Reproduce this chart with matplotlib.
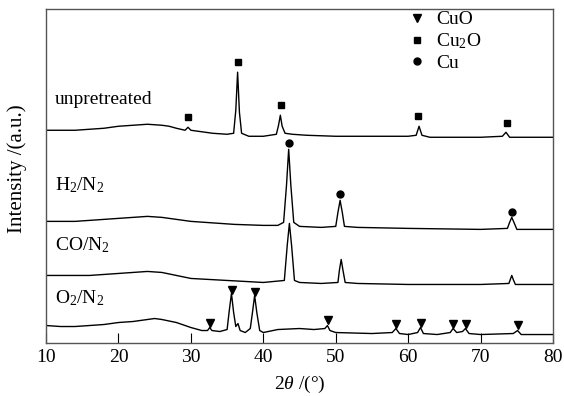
import matplotlib
matplotlib.use("Agg")
import matplotlib.pyplot as plt
from matplotlib.lines import Line2D

plt.rcParams['font.family'] = ['Liberation Serif', 'DejaVu Serif']
plt.rcParams['mathtext.fontset'] = 'custom'
plt.rcParams['mathtext.rm'] = 'Liberation Serif'
plt.rcParams['mathtext.it'] = 'Liberation Serif:italic'
plt.rcParams['mathtext.bf'] = 'Liberation Serif:bold'

# ---- data (2theta in degrees, intensity in arbitrary units incl. stacking offset) ----
unp_x = [10, 12, 14, 16, 18, 20, 22, 24, 26, 27, 28, 29.2, 29.6, 30.0, 31, 33, 35, 35.9, 36.2, 36.45,
         36.7, 37.0, 38, 40, 41.8, 42.1, 42.35, 42.6, 43.0, 44, 46, 50, 55, 60, 61.1, 61.5, 61.9,
         63, 70, 73.0, 73.5, 74.0, 80]
unp_y = [212, 212, 212, 213, 214, 216, 217, 218, 217, 216, 214, 212, 215, 212, 211, 209, 208, 209,
         232, 270, 230, 209, 206, 206, 208, 217, 227, 216, 209, 208, 207, 206, 206, 206, 207, 216,
         207, 205, 205, 206, 210, 205, 205]

h2_x = [10, 12, 14, 16, 18, 20, 22, 24, 26, 28, 30, 32, 36, 40, 42, 42.8, 43.2, 43.5, 43.8, 44.2,
        45, 48, 50.0, 50.3, 50.6, 50.9, 51.2, 53, 60, 70, 73.7, 74.0, 74.3, 74.6, 75.0, 80]
h2_y = [121, 121, 121, 122, 123, 124, 125, 126, 125, 123, 121, 120, 118, 117, 117, 120, 157, 193,
        157, 120, 116, 115, 116, 130, 142, 130, 116, 115, 114, 113, 114, 120, 125, 120, 113, 113]

co_x = [10, 12, 14, 16, 18, 20, 22, 24, 26, 28, 30, 35, 40, 42.9, 43.3, 43.6, 43.9, 44.3, 45, 48,
        50.3, 50.5, 50.75, 51.0, 51.3, 53, 60, 70, 73.9, 74.1, 74.3, 74.5, 74.8, 80]
co_y = [67, 67, 67, 67, 68, 69, 70, 71, 70, 67, 64, 62, 60, 62, 97, 119, 97, 62, 60, 59,
        60, 72, 83, 72, 60, 59, 58, 58, 59, 63, 67, 63, 58, 58]

o2_x = [10, 12, 14, 16, 18, 20, 22, 24, 25, 26, 28, 30, 31.5, 32.3, 32.6, 32.9, 34, 35.0, 35.3, 35.6,
        35.9, 36.2, 36.5, 36.8, 37.5, 38.2, 38.5, 38.8, 39.1, 39.5, 40, 42, 45, 47, 48.5, 48.85,
        49.2, 50, 55, 57.8, 58.3, 58.8, 60, 61.3, 61.7, 62.1, 64, 65.8, 66.2, 66.7, 67.5, 67.9,
        68.4, 70, 74.5, 75.1, 75.6, 80]
o2_y = [17, 16, 16, 17, 18, 20, 21, 23, 24, 23, 20, 15, 12, 12, 15, 12, 11, 13, 32, 49,
        30, 16, 19, 12, 10, 14, 30, 47, 30, 12, 10, 13, 14, 13, 14, 17,
        12, 10, 9, 10, 14, 9, 8, 10, 15, 9, 8, 10, 14, 10, 11, 14,
        9, 8, 9, 12, 8, 8]

# phase markers (2theta, height)
cuo_x = [32.7, 35.7, 38.9, 48.9, 58.3, 61.8, 66.2, 68.0, 75.2]
cuo_y = [20, 52, 50, 23, 19, 20, 19, 19, 18]
cu2o_x = [29.6, 36.5, 42.4, 61.4, 73.6]
cu2o_y = [225, 280, 237, 226, 219]
cu_x = [43.5, 50.6, 74.3]
cu_y = [199, 148, 130]

sample_labels = ['unpretreated', 'H$_2$/N$_2$', 'CO/N$_2$', 'O$_2$/N$_2$']
label_y = [243, 157, 97, 44]
legend_labels = ['CuO', 'Cu$_2$O', 'Cu']
xticks = [10, 20, 30, 40, 50, 60, 70, 80]

# ---- figure ----
fig = plt.figure(figsize=(5.64, 3.96), dpi=100)
ax = fig.add_axes([0.0816, 0.135, 0.899, 0.842])

for xs, ys in [(unp_x, unp_y), (h2_x, h2_y), (co_x, co_y), (o2_x, o2_y)]:
    ax.plot(xs, ys, color='black', lw=1.0)

ms = 5.5
ax.plot(cuo_x, cuo_y, 'v', color='black', ms=ms, ls='none')
ax.plot(cu2o_x, cu2o_y, 's', color='black', ms=ms - 0.5, ls='none')
ax.plot(cu_x, cu_y, 'o', color='black', ms=ms - 0.5, ls='none')

for lab, yy in zip(sample_labels, label_y):
    ax.text(11.2, yy, lab, fontsize=14, va='center', ha='left')

handles = [Line2D([], [], marker='v', color='black', ls='none', ms=ms),
           Line2D([], [], marker='s', color='black', ls='none', ms=ms - 0.5),
           Line2D([], [], marker='o', color='black', ls='none', ms=ms - 0.5)]
ax.legend(handles, legend_labels, loc='upper right', bbox_to_anchor=(0.875, 1.018), frameon=False,
          fontsize=14, handlelength=0.8, handletextpad=0.6, labelspacing=0.15, borderaxespad=0.0)

ax.set_xlim(10, 80)
ax.set_ylim(0, 333)
ax.set_xticks(xticks)
ax.set_yticks([])
ax.tick_params(axis='x', direction='in', length=7, labelsize=14, pad=5, top=False)
for s in ax.spines.values():
    s.set_color('#555555')
    s.set_linewidth(1.0)

ax.set_xlabel(r'2$\it{\theta}$ /(°)', fontsize=14, labelpad=5)
ax.set_ylabel('Intensity /(a.u.)', fontsize=15)
ax.yaxis.set_label_coords(-0.038, 0.52)

fig.savefig('out.png', dpi=100)
